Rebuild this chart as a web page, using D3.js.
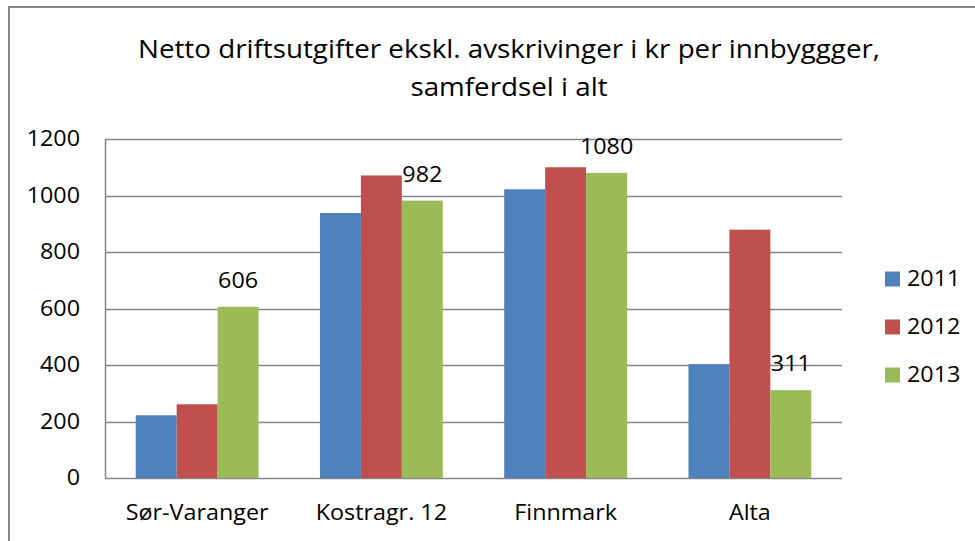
<!DOCTYPE html>
<html>
<head>
<meta charset="utf-8">
<script src="https://cdn.jsdelivr.net/npm/d3@7/dist/d3.min.js"></script>
<style>
  html, body { margin: 0; padding: 0; background: #fff; }
  svg { display: block; font-family: "Open Sans", Lato, sans-serif; }
</style>
</head>
<body>
<svg id="chart" width="975" height="541"></svg>
<script>
// Netto driftsutgifter, samferdsel i alt (kr per innbygger)
const categories = ["Sør-Varanger", "Kostragr. 12", "Finnmark", "Alta"];
const seriesNames = ["2011", "2012", "2013"];
const values2011 = [222, 938, 1022, 403];
const values2012 = [261, 1071, 1100, 879];
const values2013 = [606, 982, 1080, 311];
const yTicks = [0, 200, 400, 600, 800, 1000, 1200];
const labelledSeries = "2013";

const colors = { "2011": "#4F81BD", "2012": "#C0504D", "2013": "#9BBB59" };
const seriesValues = { "2011": values2011, "2012": values2012, "2013": values2013 };

const FONT = "'Open Sans', Lato, sans-serif";
const LABEL_SIZE = 21;
const svg = d3.select("#chart");

// outer frame of the chart area
svg.append("rect")
  .attr("x", 9).attr("y", 7)
  .attr("width", 1000).attr("height", 600)
  .attr("fill", "none")
  .attr("stroke", "#868686")
  .attr("stroke-width", 2);

const plot = { left: 105, right: 842, top: 139, bottom: 478 };

const x0 = d3.scaleBand()
  .domain(categories)
  .range([plot.left, plot.right])
  .paddingInner(0)
  .paddingOuter(0);

// 150% gap width: each category is 4.5 bar widths, bars take 3
const barW = x0.bandwidth() / 4.5;
const x1 = d3.scaleBand()
  .domain(seriesNames)
  .range([0, barW * 3]);
const groupOffset = (x0.bandwidth() - barW * 3) / 2;

const y = d3.scaleLinear()
  .domain([0, 1200])
  .range([plot.bottom, plot.top]);

// gridlines
svg.append("g")
  .selectAll("line")
  .data(yTicks)
  .join("line")
  .attr("x1", plot.left).attr("x2", plot.right)
  .attr("y1", d => Math.round(y(d)) + 0.5)
  .attr("y2", d => Math.round(y(d)) + 0.5)
  .attr("stroke", "#868686")
  .attr("stroke-width", 1.5);

// y axis line
svg.append("line")
  .attr("x1", plot.left + 0.5).attr("x2", plot.left + 0.5)
  .attr("y1", plot.top).attr("y2", plot.bottom + 0.5)
  .attr("stroke", "#868686")
  .attr("stroke-width", 1.5);

// y axis labels
const yAxis = d3.axisLeft(y).tickValues(yTicks).tickFormat(d3.format("d"))
  .tickSize(0).tickPadding(25);
const yAxisG = svg.append("g")
  .attr("transform", `translate(${plot.left},0)`)
  .call(yAxis);
yAxisG.select(".domain").remove();
yAxisG.selectAll("text")
  .attr("font-family", FONT)
  .attr("font-size", LABEL_SIZE)
  .attr("fill", "#000");

// bars
const groups = svg.append("g")
  .selectAll("g")
  .data(categories)
  .join("g")
  .attr("transform", d => `translate(${x0(d) + groupOffset},0)`);

groups.selectAll("rect")
  .data((c, i) => seriesNames.map(s => ({ s, v: seriesValues[s][i] })))
  .join("rect")
  .attr("x", d => x1(d.s))
  .attr("width", barW)
  .attr("y", d => y(d.v))
  .attr("height", d => y(0) - y(d.v))
  .attr("fill", d => colors[d.s]);

// value labels on the 2013 series
groups.selectAll("text.val")
  .data((c, i) => [{ s: labelledSeries, v: seriesValues[labelledSeries][i] }])
  .join("text")
  .attr("class", "val")
  .attr("x", d => x1(d.s) + barW / 2)
  .attr("y", d => y(d.v) - 19)
  .attr("text-anchor", "middle")
  .attr("font-size", LABEL_SIZE)
  .attr("fill", "#000")
  .text(d => d.v);

// category labels
const xAxis = d3.axisBottom(x0).tickSize(0).tickPadding(27);
const xAxisG = svg.append("g")
  .attr("transform", `translate(0,${plot.bottom})`)
  .call(xAxis);
xAxisG.select(".domain").remove();
xAxisG.selectAll("text")
  .attr("font-family", FONT)
  .attr("font-size", LABEL_SIZE)
  .attr("fill", "#000");

// legend
const legend = svg.append("g")
  .selectAll("g")
  .data(seriesNames)
  .join("g")
  .attr("transform", (d, i) => `translate(885,${279 + i * 48})`);
legend.append("rect")
  .attr("x", 0).attr("y", -7.5)
  .attr("width", 15).attr("height", 15)
  .attr("fill", d => colors[d]);
legend.append("text")
  .attr("x", 22).attr("y", 0)
  .attr("dy", "0.35em")
  .attr("font-size", LABEL_SIZE)
  .attr("fill", "#000")
  .text(d => d);

// title
const titleLines = ["Netto driftsutgifter ekskl. avskrivinger i kr per innbyggger,", "samferdsel i alt"];
const title = svg.append("g");
title.selectAll("text")
  .data(titleLines)
  .join("text")
  .attr("x", 509)
  .attr("y", (d, i) => 58 + i * 38)
  .attr("text-anchor", "middle")
  .attr("font-size", 25)
  .attr("fill", "#000")
  .text(d => d);

// widen all glyphs uniformly so the title spans its full 742px line
const titleNode = title.select("text").node();
const stretch = 742 / titleNode.getComputedTextLength();
svg.selectAll("text").each(function () {
  const w = this.getComputedTextLength();
  d3.select(this)
    .attr("textLength", w * stretch)
    .attr("lengthAdjust", "spacingAndGlyphs");
});
</script>
</body>
</html>
